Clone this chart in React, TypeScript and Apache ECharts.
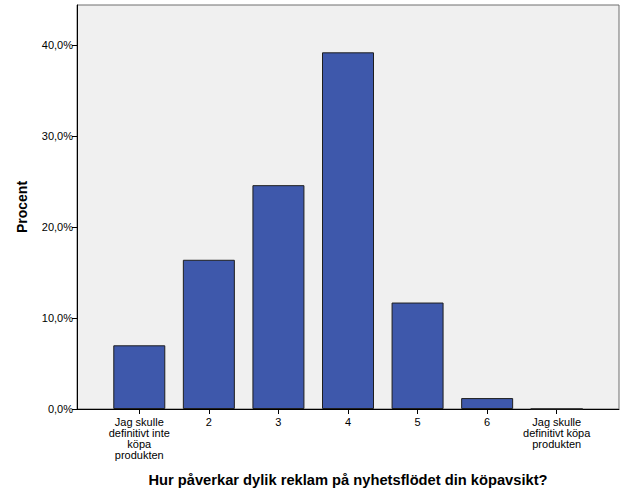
import React, { useEffect, useRef } from "react";
import * as echarts from "echarts";

const categories = [
  "Jag skulle\ndefinitivt inte\nköpa\nprodukten",
  "2",
  "3",
  "4",
  "5",
  "6",
  "Jag skulle\ndefinitivt köpa\nprodukten",
];
const percents = [7.0, 16.4, 24.6, 39.2, 11.7, 1.2, 0];
const yTicks = [0, 10, 20, 30, 40];
const yMax = 44.4;
const yTitle = "Procent";
const xTitle = "Hur påverkar dylik reklam på nyhetsflödet din köpavsikt?";

const FONT = "'Liberation Sans', Arial, sans-serif";

export default function App() {
  const ref = useRef<HTMLDivElement>(null);
  useEffect(() => {
    document.body.style.margin = "0";
    const chart = echarts.init(ref.current!, null, { renderer: "svg" });
    chart.setOption({
      animation: false,
      textStyle: { fontFamily: FONT },
      grid: [
        {
          left: 77,
          right: 7,
          top: 5,
          bottom: 92,
          show: true,
          backgroundColor: "#F0F0F0",
          borderColor: "#6E6E6E",
          borderWidth: 1,
        },
        { left: 104.5, right: 34.5, top: 5, bottom: 92 },
      ],
      xAxis: [
        {
          gridIndex: 0,
          type: "value",
          min: 0,
          max: 1,
          axisLine: { show: true, onZero: false, lineStyle: { color: "#000", width: 1 } },
          axisTick: { show: false },
          axisLabel: { show: false },
          splitLine: { show: false },
        },
        {
          gridIndex: 1,
          type: "category",
          data: categories,
          axisLine: { show: false },
          axisTick: { show: true, alignWithLabel: true, length: 5, lineStyle: { color: "#000" } },
          axisLabel: {
            interval: 0,
            fontSize: 11,
            lineHeight: 11,
            color: "#000",
            margin: 7,
            fontFamily: FONT,
          },
          name: xTitle,
          nameLocation: "middle",
          nameGap: 63,
          nameTextStyle: { fontSize: 14.7, fontWeight: "bold", color: "#000", fontFamily: FONT },
        },
      ],
      yAxis: [
        {
          gridIndex: 0,
          type: "value",
          min: 0,
          max: yMax,
          interval: 10,
          axisLine: { show: true, lineStyle: { color: "#000", width: 1 } },
          axisTick: { show: true, length: 5, lineStyle: { color: "#000" } },
          axisLabel: {
            fontSize: 11,
            color: "#000",
            margin: 4,
            fontFamily: FONT,
            showMaxLabel: false,
            formatter: (v: number) =>
              yTicks.includes(v) ? v.toFixed(1).replace(".", ",") + "%" : "",
          },
          splitLine: { show: false },
          name: yTitle,
          nameLocation: "middle",
          nameGap: 48,
          nameTextStyle: { fontSize: 14, fontWeight: "bold", color: "#000", fontFamily: FONT },
        },
        {
          gridIndex: 1,
          type: "value",
          min: 0,
          max: yMax,
          show: false,
        },
      ],
      series: [
        {
          type: "bar",
          xAxisIndex: 1,
          yAxisIndex: 1,
          data: percents,
          barWidth: 52,
          itemStyle: { color: "#3E58AB", borderColor: "#1E1E1E", borderWidth: 1 },
        },
      ],
    });
    return () => chart.dispose();
  }, []);
  return <div ref={ref} style={{ width: 626, height: 501 }} />;
}
